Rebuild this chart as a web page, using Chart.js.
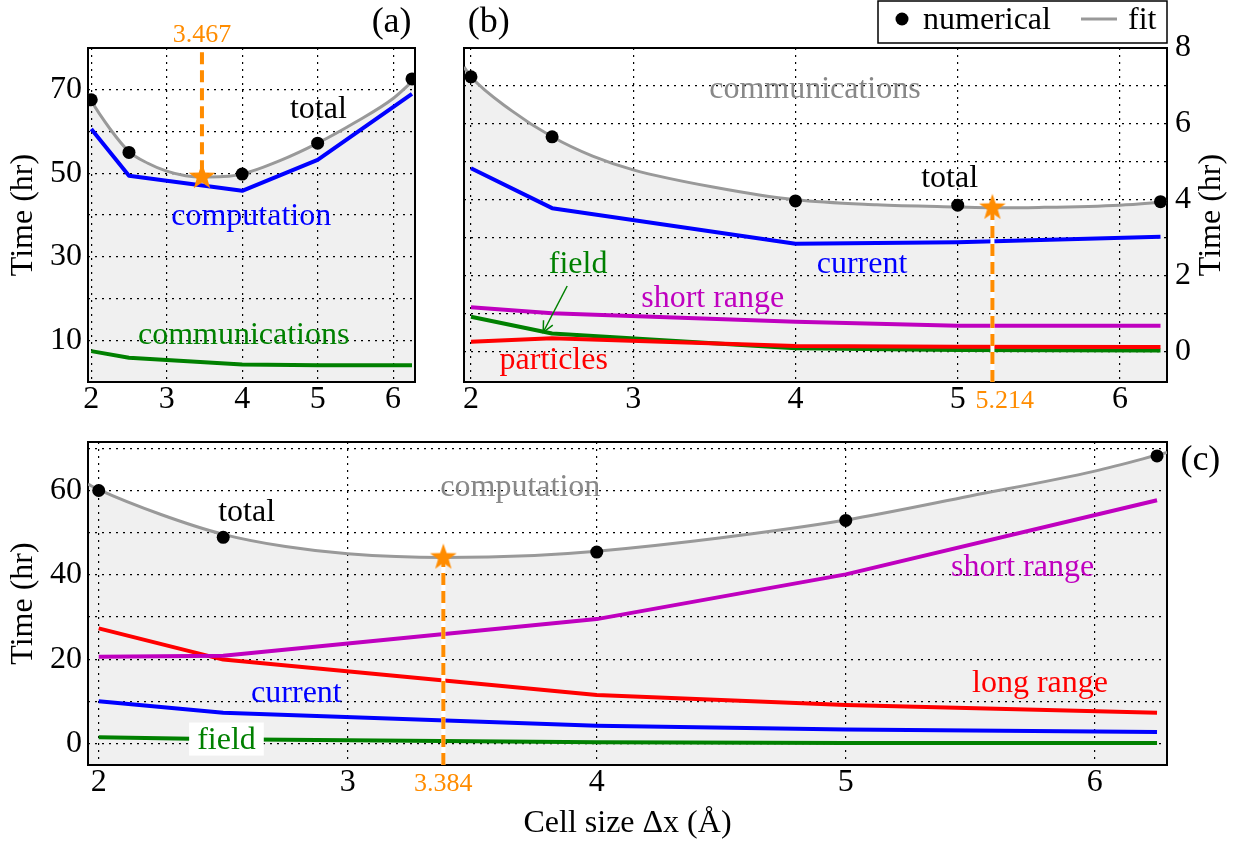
<!DOCTYPE html>
<html>
<head>
<meta charset="utf-8">
<script src="https://cdn.jsdelivr.net/npm/chart.js@4.4.1/dist/chart.umd.min.js"></script>
<style>
  html, body { margin: 0; padding: 0; background: #fff; }
  body { width: 1239px; height: 847px; position: relative; overflow: hidden; }
  .panel { position: absolute; }
</style>
</head>
<body>
<div class="panel" style="left:0;top:0;width:440px;height:420px"><canvas id="chartA"></canvas></div>
<div class="panel" style="left:440px;top:0;width:799px;height:420px"><canvas id="chartB"></canvas></div>
<div class="panel" style="left:0;top:420px;width:1239px;height:427px"><canvas id="chartC"></canvas></div>
<script>
// cell sizes (Å) of the runs
const cellSizes = [2, 2.5, 4, 5, 6.25];
const xRange = [1.957, 6.29];
const xTickLabels = [2, 3, 4, 5, 6];

// (a) total = computation + communications
const aTotal = [67.6, 55.0, 49.8, 57.2, 72.6];
const aComputation = [60.6, 49.4, 45.8, 53.2, 69.0];
const aCommunications = [7.4, 5.8, 4.2, 4.0, 4.0];
const aFitX = [1.957, 2, 2.25, 2.5, 2.75, 3, 3.25, 3.467, 3.75, 4, 4.5, 5, 5.5, 6, 6.29];
const aFitY = [69.0, 67.4, 60.6, 55.2, 52.4, 50.5, 49.4, 49.1, 49.2, 49.8, 53.0, 57.2, 62.2, 67.9, 72.6];
const aOpt = { x: 3.467, y: 49.1 };
const aYRange = [0, 80];
const aYTickLabels = [10, 30, 50, 70];

// (b) communications breakdown
const bTotal = [7.24, 5.66, 3.97, 3.86, 3.95];
const bCurrent = [4.83, 3.78, 2.84, 2.88, 3.03];
const bShortRange = [1.17, 1.01, 0.79, 0.68, 0.68];
const bField = [0.92, 0.48, 0.09, 0.04, 0.03];
const bParticles = [0.26, 0.35, 0.15, 0.13, 0.12];
const bFitX = [1.957, 2, 2.25, 2.5, 2.75, 3, 3.5, 4, 4.5, 5, 5.214, 5.5, 6, 6.29];
const bFitY = [7.5, 7.24, 6.35, 5.66, 5.15, 4.79, 4.33, 4.0, 3.87, 3.81, 3.79, 3.80, 3.86, 3.95];
const bOpt = { x: 5.214, y: 3.79 };
const bYRange = [-0.8, 8];
const bYTickLabels = [0, 2, 4, 6, 8];

// (c) computation breakdown
const cTotal = [60.0, 48.9, 45.4, 52.9, 68.2];
const cShortRange = [20.6, 20.8, 29.5, 40.1, 57.7];
const cLongRange = [27.3, 19.9, 11.5, 9.1, 7.3];
const cCurrent = [10.0, 7.3, 4.2, 3.3, 2.7];
const cField = [1.5, 1.0, 0.3, 0.1, 0.1];
const cFitX = [1.957, 2, 2.25, 2.5, 2.75, 3, 3.384, 3.75, 4, 4.5, 5, 5.5, 6, 6.29];
const cFitY = [61.5, 60.2, 54.3, 49.6, 46.7, 45.0, 44.1, 44.6, 45.6, 48.8, 53.0, 58.7, 64.6, 69.0];
const cOpt = { x: 3.384, y: 44.1 };
const cYRange = [-5.1, 71.5];
const cYTickLabels = [0, 20, 40, 60];

const BLUE = '#0000ff', GREEN = '#008000', RED = '#ff0000', MAGENTA = '#bf00bf';
const GRAY = '#999999', ORANGE = '#ff8c00';
const SERIF = '"Liberation Serif", "Times New Roman", serif';

Chart.defaults.font.family = SERIF;
Chart.defaults.color = '#000';

function makeStar(r, color) {
  const c = document.createElement('canvas');
  c.width = c.height = Math.ceil(r * 2 + 2);
  const g = c.getContext('2d');
  g.translate(c.width / 2, c.height / 2);
  g.beginPath();
  for (let i = 0; i < 10; i++) {
    const rad = i % 2 ? r * 0.4 : r;
    const a = -Math.PI / 2 + i * Math.PI / 5;
    g.lineTo(rad * Math.cos(a), rad * Math.sin(a));
  }
  g.closePath();
  g.fillStyle = color;
  g.fill();
  return c;
}
const starImg = makeStar(14, ORANGE);

const pts = (xs, ys) => xs.map((x, i) => ({ x: x, y: ys[i] }));

function lineSet(label, ys, color) {
  return { label, data: pts(cellSizes, ys), borderColor: color, borderWidth: 4,
    pointRadius: 0, tension: 0, fill: false, borderJoinStyle: 'round' };
}
function fitSet(xs, ys) {
  return { label: 'fit', data: pts(xs, ys), borderColor: GRAY, borderWidth: 3, pointRadius: 0,
    cubicInterpolationMode: 'monotone', fill: 'start', backgroundColor: 'rgba(0,0,0,0.058)' };
}
function dotSet(ys) {
  return { label: 'numerical', data: pts(cellSizes, ys), showLine: false, pointRadius: 6.5,
    pointBackgroundColor: '#000', pointBorderColor: '#000', pointBorderWidth: 0 };
}
// star at the optimum + dashed guide to the axis edge
function optSets(opt, yEnd) {
  const seg = [{ x: opt.x, y: yEnd }, { x: opt.x, y: opt.y }];
  return [
    { label: 'optimum', data: [opt], showLine: false, pointStyle: starImg, pointRadius: 14 },
    { label: 'guide', data: seg, borderColor: ORANGE, borderWidth: 4, borderDash: [12, 6], pointRadius: 0, fill: false },
    { label: 'guide-bg', data: seg, borderColor: '#fff', borderWidth: 4, pointRadius: 0, fill: false }
  ];
}

const tickFont = { family: SERIF, size: 32, lineHeight: 1 };
const gridOpts = { color: '#000', lineWidth: 1.2, drawTicks: false };
const borderOpts = { display: false, dash: [2, 5] };

function xScale(height, title) {
  return {
    type: 'linear', min: xRange[0], max: xRange[1],
    grid: gridOpts, border: borderOpts,
    ticks: { stepSize: 1, includeBounds: false, autoSkip: false, maxRotation: 0, padding: 2,
      font: tickFont, color: '#000',
      callback: v => xTickLabels.includes(v) ? String(v) : '' },
    title: title ? { display: true, text: title, color: '#000',
      font: { family: SERIF, size: 32 }, padding: { top: 0, bottom: 4 } } : { display: false },
    afterFit: s => { s.height = height; }
  };
}
function yScale(range, step, labels, position, width, title) {
  return {
    type: 'linear', position: position, min: range[0], max: range[1],
    grid: gridOpts, border: borderOpts,
    ticks: { stepSize: step, includeBounds: false, autoSkip: false, padding: position === 'left' ? 6 : 8,
      font: tickFont, color: '#000',
      callback: v => labels.includes(v) ? String(v) : '' },
    title: title ? { display: true, text: title, color: '#000',
      font: { family: SERIF, size: 32 }, padding: { top: 4, bottom: 0 } } : { display: false },
    afterFit: s => { s.width = width; }
  };
}

const framePlugin = {
  id: 'frame',
  beforeDatasetsDraw(chart) {
    const { ctx, chartArea: a } = chart;
    ctx.save();
    ctx.strokeStyle = '#000';
    ctx.lineWidth = 2;
    ctx.strokeRect(a.left, a.top, a.right - a.left, a.bottom - a.top);
    ctx.restore();
  }
};

// text labels placed in data units, baseline-anchored
function notesPlugin(items, extra) {
  return {
    id: 'notes',
    afterDraw(chart) {
      const { ctx, scales } = chart;
      ctx.save();
      items.forEach(n => {
        const px = scales.x.getPixelForValue(n.x);
        const py = scales.y.getPixelForValue(n.y);
        ctx.font = (n.size || 32) + 'px ' + SERIF;
        ctx.textAlign = 'center';
        ctx.textBaseline = 'alphabetic';
        if (n.box) {
          const w = ctx.measureText(n.text).width;
          ctx.fillStyle = '#fff';
          ctx.fillRect(px - w / 2 - 8, py - 26, w + 16, 33);
        }
        ctx.fillStyle = n.color || '#000';
        ctx.fillText(n.text, px, py);
      });
      ctx.restore();
      if (extra) extra(chart);
    }
  };
}

const baseOptions = (padding) => ({
  animation: false, responsive: true, maintainAspectRatio: false,
  layout: { padding: padding },
  plugins: { legend: { display: false }, tooltip: { enabled: false },
    filler: { drawTime: 'beforeDatasetsDraw' } }
});

// ---- (a)
const optsA = baseOptions({ top: 48, right: 25, left: 0, bottom: 0 });
optsA.scales = { x: xScale(38), y: yScale(aYRange, 10, aYTickLabels, 'left', 88, 'Time (hr)') };
new Chart(document.getElementById('chartA'), {
  type: 'line',
  data: { datasets: [
    ...optSets(aOpt, aYRange[1] - 1),
    dotSet(aTotal),
    lineSet('computation', aComputation, BLUE),
    lineSet('communications', aCommunications, GREEN),
    fitSet(aFitX, aFitY)
  ] },
  options: optsA,
  plugins: [framePlugin, notesPlugin([
    { text: '(a)', x: 5.98, y: 83.9, size: 36 },
    { text: '3.467', x: 3.467, y: 81.5, size: 26, color: ORANGE },
    { text: 'total', x: 5.01, y: 63.3 },
    { text: 'computation', x: 4.12, y: 37.6, color: BLUE },
    { text: 'communications', x: 4.02, y: 9.0, color: GREEN }
  ])]
});

// ---- (b)
const optsB = baseOptions({ top: 48, right: 0, left: 24, bottom: 0 });
optsB.scales = { x: xScale(38), y: yScale(bYRange, 1, bYTickLabels, 'right', 72) };
new Chart(document.getElementById('chartB'), {
  type: 'line',
  data: { datasets: [
    ...optSets(bOpt, bYRange[0]),
    dotSet(bTotal),
    lineSet('current', bCurrent, BLUE),
    lineSet('short range', bShortRange, MAGENTA),
    lineSet('particles', bParticles, RED),
    lineSet('field', bField, GREEN),
    fitSet(bFitX, bFitY)
  ] },
  options: optsB,
  plugins: [framePlugin, notesPlugin([
    { text: '(b)', x: 2.11, y: 8.42, size: 36 },
    { text: 'communications', x: 4.12, y: 6.68, color: '#888' },
    { text: 'total', x: 4.95, y: 4.34 },
    { text: 'current', x: 4.41, y: 2.07, color: BLUE },
    { text: 'field', x: 2.66, y: 2.07, color: GREEN },
    { text: 'short range', x: 3.49, y: 1.18, color: MAGENTA },
    { text: 'particles', x: 2.51, y: -0.46, color: RED },
    { text: '5.214', x: 5.29, y: -1.48, size: 26, color: ORANGE }
  ], chart => {
    const { ctx, scales, chartArea: a } = chart;
    ctx.save();
    // arrow from the "field" label to the green line
    const x1 = scales.x.getPixelForValue(2.593), y1 = scales.y.getPixelForValue(1.73);
    const x2 = scales.x.getPixelForValue(2.445), y2 = scales.y.getPixelForValue(0.51);
    ctx.strokeStyle = GREEN;
    ctx.lineWidth = 1.5;
    ctx.beginPath(); ctx.moveTo(x1, y1); ctx.lineTo(x2, y2); ctx.stroke();
    const ang = Math.atan2(y2 - y1, x2 - x1);
    ctx.beginPath();
    ctx.moveTo(x2 - 12 * Math.cos(ang - 0.45), y2 - 12 * Math.sin(ang - 0.45));
    ctx.lineTo(x2, y2);
    ctx.lineTo(x2 - 12 * Math.cos(ang + 0.45), y2 - 12 * Math.sin(ang + 0.45));
    ctx.stroke();

    // right axis title, reading bottom to top
    ctx.fillStyle = '#000';
    ctx.font = '32px ' + SERIF;
    ctx.textAlign = 'center';
    ctx.textBaseline = 'middle';
    ctx.translate(a.right + 45, (a.top + a.bottom) / 2);
    ctx.rotate(-Math.PI / 2);
    ctx.fillText('Time (hr)', 0, 0);
    ctx.restore();

    // legend box
    ctx.save();
    const lx = 438, ly = 1, lw = 289, lh = 42;
    ctx.fillStyle = '#fff';
    ctx.fillRect(lx, ly, lw, lh);
    ctx.strokeStyle = '#000';
    ctx.lineWidth = 1.5;
    ctx.strokeRect(lx, ly, lw, lh);
    ctx.fillStyle = '#000';
    ctx.beginPath(); ctx.arc(lx + 24, 19, 6.5, 0, Math.PI * 2); ctx.fill();
    ctx.font = '32px ' + SERIF;
    ctx.textAlign = 'left';
    ctx.textBaseline = 'alphabetic';
    ctx.fillText('numerical', lx + 45, 29);
    ctx.strokeStyle = GRAY;
    ctx.lineWidth = 3;
    ctx.beginPath(); ctx.moveTo(lx + 203, 19); ctx.lineTo(lx + 239, 19); ctx.stroke();
    ctx.fillText('fit', lx + 250, 29);
    ctx.restore();
  })]
});

// ---- (c)
const optsC = baseOptions({ top: 12, right: 72, left: 0, bottom: 0 });
optsC.scales = { x: xScale(82, 'Cell size \u0394x (\u00c5)'), y: yScale(cYRange, 10, cYTickLabels, 'left', 88, 'Time (hr)') };
new Chart(document.getElementById('chartC'), {
  type: 'line',
  data: { datasets: [
    ...optSets(cOpt, cYRange[0]),
    dotSet(cTotal),
    lineSet('short range', cShortRange, MAGENTA),
    lineSet('long range', cLongRange, RED),
    lineSet('current', cCurrent, BLUE),
    lineSet('field', cField, GREEN),
    fitSet(cFitX, cFitY)
  ] },
  options: optsC,
  plugins: [framePlugin, notesPlugin([
    { text: '(c)', x: 6.424, y: 64.9, size: 36 },
    { text: 'computation', x: 3.693, y: 58.6, color: '#888' },
    { text: 'total', x: 2.594, y: 52.8 },
    { text: 'short range', x: 5.71, y: 39.7, color: MAGENTA },
    { text: 'long range', x: 5.78, y: 12.3, color: RED },
    { text: 'current', x: 2.794, y: 9.8, color: BLUE },
    { text: 'field', x: 2.513, y: -1.2, color: GREEN, box: true },
    { text: '3.384', x: 3.384, y: -11.3, size: 26, color: ORANGE }
  ])]
});
</script>
</body>
</html>
